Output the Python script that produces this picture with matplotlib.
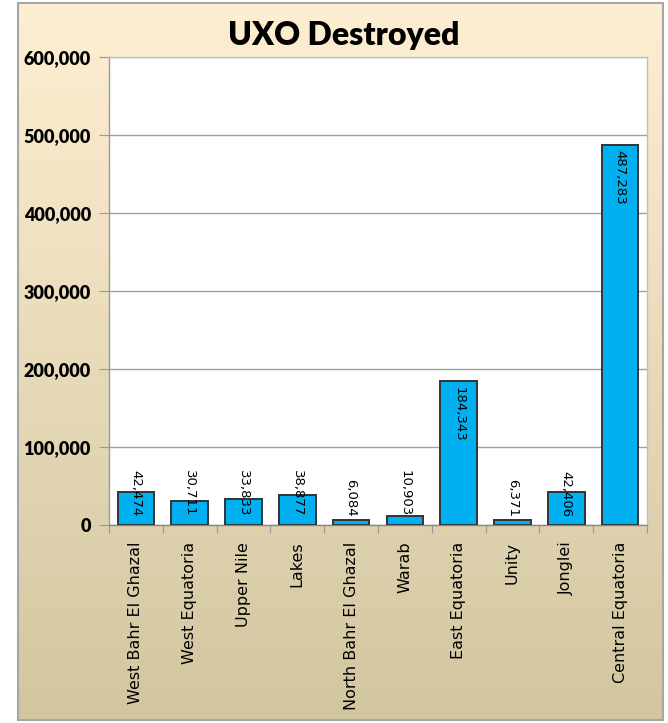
import numpy as np
import matplotlib
matplotlib.use("Agg")
import matplotlib.pyplot as plt
from matplotlib.ticker import FuncFormatter, MultipleLocator, FixedLocator
from matplotlib.patches import Rectangle

categories = ["West Bahr El Ghazal", "West Equatoria", "Upper Nile", "Lakes",
              "North Bahr El Ghazal", "Warab", "East Equatoria", "Unity",
              "Jonglei", "Central Equatoria"]
values = [42474, 30711, 33833, 38877, 6084, 10903, 184343, 6371, 42406, 487283]
title = "UXO Destroyed"

W, H = 668, 723
fig = plt.figure(figsize=(W / 100, H / 100), dpi=100)
fig.patch.set_facecolor("white")

# gradient background frame
bg = fig.add_axes([0, 0, 1, 1], zorder=0)
bg.axis("off")
top_c = np.array([0xFE, 0xEF, 0xD2]) / 255
bot_c = np.array([0xD2, 0xC6, 0xA0]) / 255
t = np.linspace(0, 1, 256)[:, None]
grad = top_c[None, :] * (1 - t) + bot_c[None, :] * t
grad = grad[:, None, :]
fx0, fx1, fy0, fy1 = 18, 663, 3, 720
bg.imshow(grad, extent=(fx0, fx1, fy1, fy0), aspect="auto", interpolation="bilinear")
bg.add_patch(Rectangle((fx0, fy0), fx1 - fx0, fy1 - fy0, fill=False,
                       edgecolor="#A6A6A6", linewidth=1.5))
bg.set_xlim(0, W)
bg.set_ylim(H, 0)

# plot area
L, R, T, B = 109, 647, 57, 525
ax = fig.add_axes([L / W, 1 - B / H, (R - L) / W, (B - T) / H], zorder=1)
ax.set_facecolor("white")
n = len(categories)
x = np.arange(n)
ax.bar(x, values, width=0.68, color="#00B0F0", edgecolor="#333333", linewidth=1.4, zorder=3)
ax.set_xlim(-0.5, n - 0.5)
ax.set_ylim(0, 600000)
ax.yaxis.set_major_locator(MultipleLocator(100000))
ax.yaxis.set_major_formatter(FuncFormatter(lambda v, p: f"{int(v):,}"))
ax.grid(axis="y", color="#A0A0A0", linewidth=1.0, zorder=0)
ax.set_axisbelow(True)

for s in ["top", "right"]:
    ax.spines[s].set_color("#C0C0C0")
    ax.spines[s].set_linewidth(1.0)
ax.spines["left"].set_color("#999999")
ax.spines["bottom"].set_color("#888888")
ax.spines["left"].set_linewidth(1.0)
ax.spines["bottom"].set_linewidth(1.0)

ax.tick_params(axis="y", direction="out", length=7, color="#999999", pad=6)
for lab in ax.get_yticklabels():
    lab.set_fontfamily(["Lato", "DejaVu Sans"])
    lab.set_fontweight("heavy")
    lab.set_fontsize(13)

# x: ticks at boundaries, labels at centres
ax.xaxis.set_major_locator(FixedLocator(np.arange(-0.5, n, 1.0)))
ax.xaxis.set_major_formatter(FuncFormatter(lambda v, p: ""))
ax.xaxis.set_minor_locator(FixedLocator(x))
ax.set_xticks(x, categories, minor=True)
ax.tick_params(axis="x", which="major", direction="out", length=6, color="#999999")
ax.tick_params(axis="x", which="minor", length=0, pad=12)
for lab in ax.get_xticklabels(minor=True):
    lab.set_rotation(90)
    lab.set_fontfamily("DejaVu Sans")
    lab.set_fontsize(11.5)
    lab.set_va("top")
    lab.set_ha("center")

# data labels
px_per_unit = (B - T) / 600000
for i, v in enumerate(values):
    txt = f"{v:,}"
    bar_px = v * px_per_unit
    if bar_px - 5 >= 46:
        ax.annotate(txt, xy=(i, v), xytext=(0, -4), textcoords="offset points",
                    rotation=-90, ha="center", va="top", fontsize=9.5,
                    family="DejaVu Sans", zorder=5)
    else:
        ax.annotate(txt, xy=(i, 0), xytext=(0, 6), textcoords="offset points",
                    rotation=-90, ha="center", va="bottom", fontsize=9.5,
                    family="DejaVu Sans", zorder=5)

fig.text(344 / W, 1 - 36 / H, title, ha="center", va="center",
         fontsize=23, fontweight="heavy", family=["Lato", "DejaVu Sans"])

fig.savefig("out.png", dpi=100)
